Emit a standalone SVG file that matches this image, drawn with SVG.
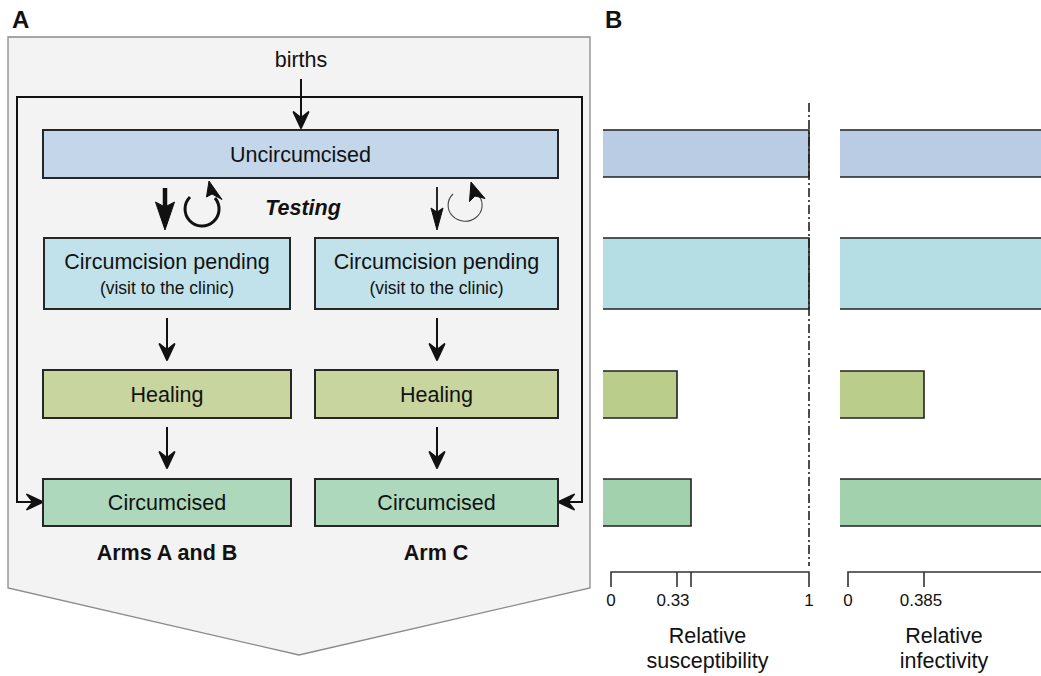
<svg xmlns="http://www.w3.org/2000/svg" width="1041" height="676" viewBox="0 0 1041 676">
<style>
text{font-family:"Liberation Sans",Arial,Helvetica,sans-serif;fill:#111}
.lbl{font-size:21.5px;text-anchor:middle}
.sm{font-size:17.5px;text-anchor:middle}
.b{font-weight:bold}
.panel{font-size:24px;font-weight:bold}
.tk{font-size:17px;text-anchor:middle}
.box{stroke:#262626;stroke-width:2}
.conn{fill:none;stroke:#111;stroke-width:2}
.edge{fill:none;stroke:#222;stroke-width:1.6}
.axis{fill:none;stroke:#333;stroke-width:1.6}
.head{fill:#111;stroke:#111;stroke-width:1;stroke-linejoin:round}
</style>
<defs>
<marker id="arr" markerUnits="userSpaceOnUse" viewBox="-19 -10 21 20" refX="-8" refY="0" markerWidth="21" markerHeight="20" orient="auto">
<path d="M0,0 L-16,-7.5 L-10,0 L-16,7.5 Z" fill="#111" stroke="#111" stroke-width="1.8" stroke-linejoin="round"/>
</marker>
</defs>
<rect width="1041" height="676" fill="#ffffff"/>
<text class="panel" x="12" y="28">A</text>
<text class="panel" x="605" y="28">B</text>
<path id="frame" d="M8,37 H590 V588 L299,655 L8,588 Z" fill="#f3f3f3" stroke="#8a8a8a" stroke-width="1.3"/>
<g id="connectors">
<path class="conn" d="M301,79 V120" marker-end="url(#arr)"/>
<path class="conn" d="M301,97 H17 V502 H35" marker-end="url(#arr)"/>
<path class="conn" d="M301,97 H582 V502 H566" marker-end="url(#arr)"/>
<path class="conn" d="M167,318 V352" marker-end="url(#arr)"/>
<path class="conn" d="M167,427 V460" marker-end="url(#arr)"/>
<path class="conn" d="M437,318 V352" marker-end="url(#arr)"/>
<path class="conn" d="M437,427 V460" marker-end="url(#arr)"/>
<g id="testing-left">
<path d="M165,188 V212" fill="none" stroke="#111" stroke-width="4.5"/>
<path class="head" d="M165,230 L155.5,202 L165,207 L174.5,202 Z"/>
<path d="M190,197 A17,17 0 1 0 215,198" fill="none" stroke="#111" stroke-width="3"/>
<path class="head" d="M209,181 L206.5,197 L212,194 L222,199.5 Z"/>
</g>
<g id="testing-right">
<path d="M437,187 V215" fill="none" stroke="#111" stroke-width="1.8"/>
<path class="head" d="M437,230 L431,208 L437,212 L443,208 Z"/>
<path d="M453,194 A17,16 0 1 0 479,196" fill="none" stroke="#444" stroke-width="1.1"/>
<path class="head" d="M471,182 L469.5,201.5 L475,196 L485,198.5 Z"/>
</g>
</g>
<text class="lbl" x="301" y="67">births</text>
<text class="lbl b" x="303" y="215" font-style="italic" font-size="23">Testing</text>
<g id="uncircumcised">
<rect class="box" x="43" y="130" width="515" height="48" fill="#c3d6ea"/>
<text class="lbl" x="300.5" y="161.5">Uncircumcised</text>
</g>
<g id="pending-ab">
<rect class="box" x="44" y="238" width="246" height="71" fill="#c2e2eb"/>
<text class="lbl" x="167" y="269">Circumcision pending</text>
<text class="sm" x="167" y="294">(visit to the clinic)</text>
</g>
<g id="pending-c">
<rect class="box" x="315" y="238" width="243" height="71" fill="#c2e2eb"/>
<text class="lbl" x="436.5" y="269">Circumcision pending</text>
<text class="sm" x="436.5" y="294">(visit to the clinic)</text>
</g>
<g id="healing-ab">
<rect class="box" x="43" y="370" width="248" height="48" fill="#c8d59f"/>
<text class="lbl" x="167" y="401.5">Healing</text>
</g>
<g id="healing-c">
<rect class="box" x="315" y="370" width="243" height="48" fill="#c8d59f"/>
<text class="lbl" x="436.5" y="401.5">Healing</text>
</g>
<g id="circumcised-ab">
<rect class="box" x="43" y="479" width="248" height="47" fill="#aed8bb"/>
<text class="lbl" x="167" y="510">Circumcised</text>
</g>
<g id="circumcised-c">
<rect class="box" x="315" y="479" width="243" height="47" fill="#aed8bb"/>
<text class="lbl" x="436.5" y="510">Circumcised</text>
</g>
<text class="lbl b" x="167" y="560">Arms A and B</text>
<text class="lbl b" x="436" y="560">Arm C</text>
<g id="susceptibility">
<rect x="603" y="130" width="206" height="47" fill="#bacce3"/>
<path class="edge" d="M603,130 H809 V177 H603"/>
<rect x="603" y="238" width="206" height="71" fill="#b4dde4"/>
<path class="edge" d="M603,238 H809 V309 H603"/>
<rect x="603" y="371" width="74" height="47" fill="#bbcd8b"/>
<path class="edge" d="M603,371 H677 V418 H603"/>
<rect x="603" y="479" width="88" height="47" fill="#a2d1ad"/>
<path class="edge" d="M603,479 H691 V526 H603"/>
<path d="M809,103 V566" fill="none" stroke="#222" stroke-width="1.6" stroke-dasharray="9,3,2,3"/>
<path class="axis" d="M611,587 V572 H809 V587 M677,572 V587 M691,572 V587"/>
<text class="tk" x="611" y="606">0</text>
<text class="tk" x="673" y="606">0.33</text>
<text class="tk" x="809" y="606">1</text>
<text class="lbl" x="707.5" y="643">Relative</text>
<text class="lbl" x="707.5" y="668">susceptibility</text>
</g>
<g id="infectivity">
<rect x="840" y="130" width="202" height="47" fill="#bacce3"/>
<path class="edge" d="M840,130 H1042 M840,177 H1042"/>
<rect x="840" y="238" width="202" height="71" fill="#b4dde4"/>
<path class="edge" d="M840,238 H1042 M840,309 H1042"/>
<rect x="840" y="371" width="84" height="47" fill="#bbcd8b"/>
<path class="edge" d="M840,371 H924 V418 H840"/>
<rect x="840" y="479" width="202" height="47" fill="#a2d1ad"/>
<path class="edge" d="M840,479 H1042 M840,526 H1042"/>
<path class="axis" d="M848,587 V572 H1042 M924,572 V587"/>
<text class="tk" x="848" y="606">0</text>
<text class="tk" x="921" y="606">0.385</text>
<text class="lbl" x="944" y="643">Relative</text>
<text class="lbl" x="944" y="668">infectivity</text>
</g>
</svg>
